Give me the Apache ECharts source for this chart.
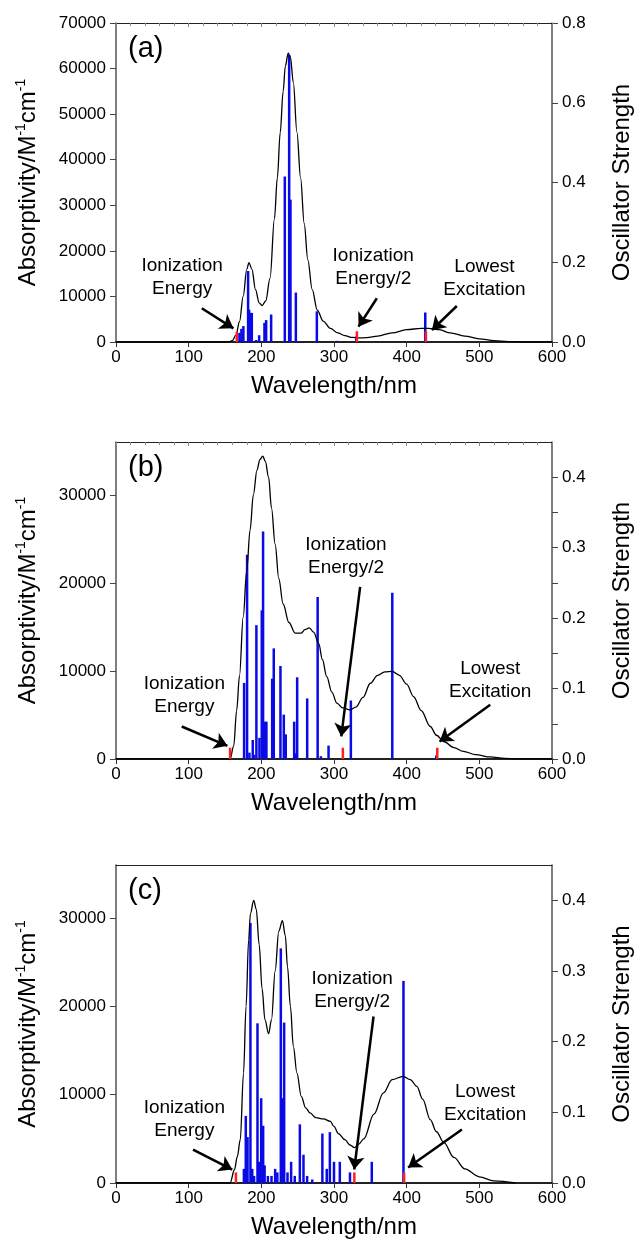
<!DOCTYPE html>
<html>
<head>
<meta charset="utf-8">
<script src="https://cdn.jsdelivr.net/npm/echarts@6/dist/echarts.min.js"></script>
<style>
  html, body { margin: 0; padding: 0; background: #fff; }
  #chart { width: 636px; height: 1248px; }
</style>
</head>
<body>
<div id="chart"></div>
<script>
// wavelength ticks shared by all panels
const wavelengthTicks = [0, 100, 200, 300, 400, 500, 600];

// simulated spectra: [wavelength nm, absorptivity M^-1 cm^-1]
const spectrumA = [
  [0, 0], [140, 0], [155, 0], [160, 300], [165, 1500], [170, 4500], [175, 10000], [180, 16000],
  [183, 17400], [187, 16000], [192, 11500], [197, 8600], [201, 8000], [206, 9000], [212, 14000],
  [218, 27000], [222, 36000], [226, 46000], [230, 55000], [233, 60500], [237, 63400], [240, 62500],
  [244, 57000], [249, 46000], [254, 36000], [259, 26000], [264, 18000], [270, 11500], [277, 7000],
  [285, 4600], [295, 3000], [305, 2000], [315, 1400], [325, 1000], [335, 900], [345, 950],
  [360, 1300], [380, 2000], [400, 2700], [420, 3000], [430, 3000], [445, 2700], [460, 2000],
  [480, 1300], [500, 700], [520, 300], [540, 100], [560, 0], [600, 0]
];
const spectrumB = [
  [0, 0], [150, 0], [157, 0], [162, 1500], [166, 5500], [170, 9500], [175, 16100], [180, 21500],
  [184.5, 26000], [189, 30000], [194, 32800], [198, 34000], [202, 34400], [205.5, 33800], [210, 32000],
  [214, 28500], [219, 24400], [224, 20500], [230, 17600], [238, 15500], [246.5, 14300], [255, 14300],
  [260, 14700], [266, 14900], [272, 14400], [279, 13100], [284, 11300], [290, 9350], [297, 7600],
  [304, 6340], [312, 5800], [322, 5580], [330, 5900], [340, 7000], [350, 8600], [360, 9500],
  [370, 9900], [380, 9950], [390, 9500], [400, 8500], [409.5, 7090], [420, 5500], [432.5, 3690],
  [441, 2700], [451, 1990], [465, 1300], [478, 860], [495, 500], [515, 230], [535, 80], [552, 0], [600, 0]
];
const spectrumC = [
  [0, 0], [150, 0], [157, 0], [163, 1500], [167, 3000], [171, 4900], [175.5, 12450], [179, 20000],
  [182.5, 27500], [185, 30500], [189.5, 32000], [193, 31000], [197, 27000], [201, 22000], [205, 18500],
  [210, 16900], [214, 18500], [219, 24000], [224, 28500], [229, 29700], [233, 28000], [236, 24500],
  [240, 20000], [244, 15500], [249, 12450], [255, 9800], [261, 8500], [267, 7930], [275, 7400],
  [285.5, 7250], [295, 6980], [300, 6400], [306, 5600], [315, 4900], [322, 4300], [328, 4000],
  [334, 4400], [341, 5000], [355, 7800], [368, 10200], [380, 11700], [395, 12070], [405, 11700],
  [414, 10940], [422, 9500], [432.5, 7175], [441, 5800], [451, 4600], [465, 2900], [480, 1600],
  [500, 700], [520, 250], [550, 0]
];

// transitions: [wavelength nm, oscillator strength]
const sticksA = [
  [169.9, 0.023], [172.6, 0.033], [175.3, 0.040], [181.8, 0.178], [183.2, 0.081], [185, 0.073],
  [186.9, 0.073], [192.8, 0.005], [197, 0.017], [204.3, 0.048], [206.6, 0.055], [213.5, 0.069],
  [232.3, 0.415], [238.3, 0.720], [240.1, 0.357], [247.5, 0.124], [276.4, 0.077], [303.9, 0.003],
  [330.6, 0.014], [425.6, 0.074]
];
const sticksB = [
  [176.3, 0.108], [180.4, 0.290], [183.6, 0.009], [188.2, 0.027], [190, 0.006], [193.2, 0.190],
  [197.4, 0.030], [200.6, 0.211], [202.4, 0.323], [204.8, 0.053], [207, 0.053], [214.9, 0.114],
  [217.1, 0.157], [226.3, 0.132], [230.9, 0.063], [233.6, 0.035], [245.2, 0.053], [246.5, 0.008],
  [249.3, 0.116], [263.1, 0.086], [277.5, 0.230], [282, 0.004], [292.5, 0.019], [323.2, 0.083],
  [380.2, 0.236], [440.7, 0.005]
];
const sticksC = [
  [176, 0.020], [178.6, 0.095], [181, 0.065], [185, 0.368], [187.5, 0.020], [190, 0.010],
  [194.7, 0.226], [197, 0.030], [199.8, 0.120], [202.5, 0.081], [204.5, 0.025], [209, 0.010],
  [214, 0.010], [219, 0.020], [222, 0.015], [226.8, 0.332], [229.1, 0.120], [231.4, 0.227],
  [236, 0.015], [241, 0.030], [246, 0.010], [253, 0.083], [258, 0.040], [263, 0.010], [270, 0.005],
  [284, 0.070], [290, 0.020], [294.3, 0.072], [300, 0.030], [308, 0.030], [322, 0.015],
  [352, 0.030], [395.6, 0.286]
];

// red markers: ionization energy, ionization energy/2, lowest excitation
const markersA = [[166.2, 0.025], [331.5, 0.027], [426.5, 0.027]];
const markersB = [[157, 0.016], [312.2, 0.016], [442.1, 0.016]];
const markersC = [[165, 0.015], [328, 0.015], [396.5, 0.015]];

// annotations: text centre and arrow from/to, in data coords (nm, absorptivity)
const notesA = [
  { text: 'Ionization\nEnergy', at: [91, 14100], from: [118, 7400], to: [161.6, 3000] },
  { text: 'Ionization\nEnergy/2', at: [354, 16500], from: [359, 9590], to: [333.7, 3360] },
  { text: 'Lowest\nExcitation', at: [507, 14000], from: [469, 7900], to: [434.8, 2630] }
];
const notesB = [
  { text: 'Ionization\nEnergy', at: [94, 7250], from: [90.5, 3690], to: [153.3, 1500] },
  { text: 'Ionization\nEnergy/2', at: [316.5, 23000], from: [336, 19540], to: [310, 2560] },
  { text: 'Lowest\nExcitation', at: [515, 8900], from: [515, 6150], to: [445.3, 1990] }
];
const notesC = [
  { text: 'Ionization\nEnergy', at: [94, 7200], from: [106, 3785], to: [160, 1525] },
  { text: 'Ionization\nEnergy/2', at: [325, 21800], from: [354.4, 18850], to: [327.8, 1525] },
  { text: 'Lowest\nExcitation', at: [508, 9000], from: [476, 6045], to: [402, 1750] }
];

const FONT = '"Liberation Sans", Arial, Helvetica, sans-serif';

const panels = [
  { letter: '(a)', top: 23, height: 319, absMax: 70000, absTicks: [0, 10000, 20000, 30000, 40000, 50000, 60000, 70000],
    oscMax: 0.8, oscLabels: [0, 0.2, 0.4, 0.6, 0.8], oscTicks: [0, 0.2, 0.4, 0.6, 0.8],
    curve: spectrumA, sticks: sticksA, marks: markersA, notes: notesA, topTicks: true },
  { letter: '(b)', top: 442, height: 317, absMax: 36000, absTicks: [0, 10000, 20000, 30000],
    oscMax: 0.45, oscLabels: [0, 0.1, 0.2, 0.3, 0.4], oscTicks: [0, 0.05, 0.1, 0.15, 0.2, 0.25, 0.3, 0.35, 0.4],
    curve: spectrumB, sticks: sticksB, marks: markersB, notes: notesB, topTicks: true },
  { letter: '(c)', top: 865, height: 318, absMax: 36000, absTicks: [0, 10000, 20000, 30000],
    oscMax: 0.45, oscLabels: [0, 0.1, 0.2, 0.3, 0.4], oscTicks: [0, 0.1, 0.2, 0.3, 0.4],
    curve: spectrumC, sticks: sticksC, marks: markersC, notes: notesC, topTicks: false }
];

const grid = [], xAxis = [], yAxis = [], series = [], graphic = [];

panels.forEach((p, i) => {
  grid.push({ left: 116, right: 84, top: p.top, height: p.height, containLabel: false, outerBoundsMode: 'none' });

  // bottom wavelength axis
  xAxis.push({
    type: 'value', gridIndex: i, min: 0, max: 600, interval: 100,
    name: 'Wavelength/nm', nameLocation: 'middle', nameGap: 32,
    nameTextStyle: { fontFamily: FONT, fontSize: 24, color: '#000' },
    axisLine: { show: true, onZero: false, lineStyle: { color: '#222', width: 2 } },
    axisTick: { show: true, length: 5, customValues: wavelengthTicks, lineStyle: { color: '#333' } },
    axisLabel: { fontFamily: FONT, fontSize: 17, color: '#000', margin: 7, customValues: wavelengthTicks },
    splitLine: { show: false }
  });
  // top frame
  xAxis.push({
    type: 'value', gridIndex: i, position: 'top', min: 0, max: 600, interval: 100,
    axisLine: { show: true, onZero: false, lineStyle: { color: '#222', width: 1 } },
    axisTick: { show: p.topTicks, inside: true, length: 4, lineStyle: { color: '#888' } },
    minorTick: { show: p.topTicks, splitNumber: 5, length: 3, lineStyle: { color: '#888' } },
    axisLabel: { show: false },
    splitLine: { show: false }
  });

  // left absorptivity axis
  yAxis.push({
    type: 'value', gridIndex: i, min: 0, max: p.absMax, interval: 10000,
    name: 'Absorptivity/M{sup|-1}cm{sup|-1}', nameLocation: 'middle', nameGap: 74, nameRotate: 90,
    nameTextStyle: {
      fontFamily: FONT, fontSize: 24, color: '#000', lineHeight: 28,
      rich: { sup: { fontFamily: FONT, fontSize: 14, color: '#000', verticalAlign: 'top', lineHeight: 28 } }
    },
    axisLine: { show: true, onZero: false, lineStyle: { color: '#555', width: 1.5 } },
    axisTick: { show: true, length: 6, customValues: p.absTicks, lineStyle: { color: '#444' } },
    axisLabel: {
      fontFamily: FONT, fontSize: 17, color: '#000', margin: 10, customValues: p.absTicks,
      formatter: v => String(v)
    },
    splitLine: { show: false }
  });
  // right oscillator strength axis
  yAxis.push({
    type: 'value', gridIndex: i, position: 'right', min: 0, max: p.oscMax,
    name: 'Oscillator Strength', nameLocation: 'middle', nameGap: 58, nameRotate: 90,
    nameTextStyle: { fontFamily: FONT, fontSize: 24, color: '#000' },
    axisLine: { show: true, onZero: false, lineStyle: { color: '#555', width: 1.5 } },
    axisTick: { show: true, length: 6, customValues: p.oscTicks, lineStyle: { color: '#444' } },
    axisLabel: {
      fontFamily: FONT, fontSize: 17, color: '#000', margin: 10, customValues: p.oscLabels,
      formatter: v => v.toFixed(1)
    },
    splitLine: { show: false }
  });

  // transitions (blue sticks)
  series.push({
    type: 'bar', xAxisIndex: 2 * i, yAxisIndex: 2 * i + 1, data: p.sticks,
    barWidth: 2.5, barGap: '-100%', itemStyle: { color: '#0a0ae6' }, z: 2, silent: true
  });
  // red markers
  series.push({
    type: 'bar', xAxisIndex: 2 * i, yAxisIndex: 2 * i + 1, data: p.marks,
    barWidth: 2.5, barGap: '-100%', itemStyle: { color: '#ff2020' }, z: 4, silent: true
  });
  // spectrum curve + annotations
  series.push({
    type: 'line', xAxisIndex: 2 * i, yAxisIndex: 2 * i, data: p.curve,
    showSymbol: false, smooth: 0.35, smoothMonotone: 'x',
    lineStyle: { color: '#000', width: 1.3 }, z: 3, silent: true,
    markLine: {
      silent: true, symbol: ['none', 'arrow'], symbolSize: 13,
      lineStyle: { color: '#000', width: 2.5, type: 'solid' },
      label: { show: false },
      data: p.notes.map(n => [{ coord: n.from }, { coord: n.to }])
    },
    markPoint: {
      silent: true,
      data: p.notes.map(n => ({
        coord: n.at, symbol: 'circle', symbolSize: 1,
        itemStyle: { color: 'rgba(0,0,0,0)' },
        label: {
          show: true, position: 'inside', formatter: n.text, fontFamily: FONT,
          fontSize: 19, lineHeight: 23, color: '#000', align: 'center'
        }
      }))
    }
  });

  graphic.push({
    type: 'text', left: 128, top: p.top + 11,
    style: { text: p.letter, font: '29px ' + FONT, fill: '#000' }
  });
});

const chart = echarts.init(document.getElementById('chart'));
chart.setOption({
  animation: false,
  backgroundColor: '#fff',
  grid, xAxis, yAxis, series, graphic
});
</script>
</body>
</html>
